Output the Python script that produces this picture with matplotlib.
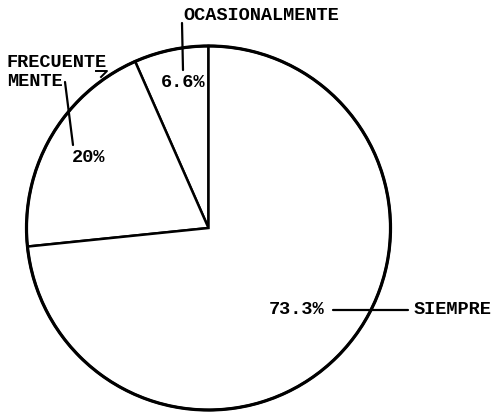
import matplotlib.pyplot as plt

# Datos del grafico
categorias = ["OCASIONALMENTE", "FRECUENTE\nMENTE", "SIEMPRE"]
porcentajes = [6.6, 20, 73.3]
etiquetas_pct = ["6.6%", "20%", "73.3%"]

W, H = 495, 417


def py(y):
    # pasar de pixel (desde arriba) a coordenada de datos
    return H - y


fig = plt.figure(figsize=(4.95, 4.17), dpi=100)
ax = fig.add_axes([0, 0, 1, 1])

ax.pie(porcentajes, startangle=90, counterclock=True,
       center=(208.5, py(228)), radius=182,
       colors=["white"] * 3,
       wedgeprops=dict(edgecolor="black", linewidth=1.8))
# borde exterior mas grueso
circ = plt.Circle((208.5, py(228)), 182, fill=False, ec="black", lw=2.3)
ax.add_patch(circ)

ax.set_xlim(0, W)
ax.set_ylim(0, H)
ax.set_aspect("auto")
ax.axis("off")

fuente = dict(family="Liberation Mono", fontweight="bold", fontsize=13.4,
              color="black", va="center", ha="left")
linea = dict(arrowstyle="-", color="black", lw=1.6, shrinkA=0, shrinkB=0)

# OCASIONALMENTE
ax.text(183, py(15), categorias[0], **fuente)
ax.annotate("", xy=(183, py(70)), xytext=(182, py(23)), arrowprops=linea)
ax.text(161, py(82), etiquetas_pct[0], **fuente)

# FRECUENTE MENTE
lin1, lin2 = categorias[1].split("\n")
ax.text(7, py(62), lin1, **fuente)
ax.text(7, py(81), lin2, **fuente)
ax.plot([96, 107, 101], [py(71), py(71), py(77)], color="black", lw=1.4)
ax.annotate("", xy=(73, py(145)), xytext=(65, py(82)), arrowprops=linea)
ax.text(72, py(157), etiquetas_pct[1], **fuente)

# SIEMPRE
ax.text(269, py(310), etiquetas_pct[2], **fuente)
ax.annotate("", xy=(408, py(310)), xytext=(333, py(310)), arrowprops=linea)
ax.text(414, py(310), categorias[2], **fuente)

fig.savefig("out.png", dpi=100, facecolor="white")
